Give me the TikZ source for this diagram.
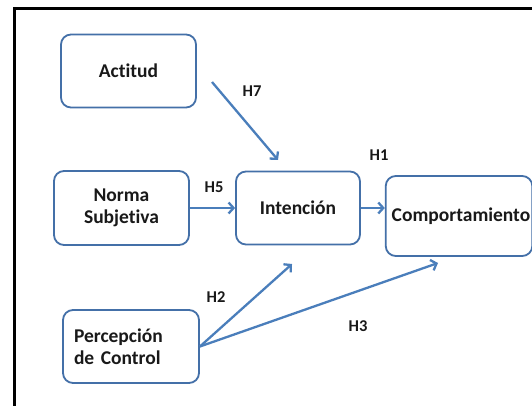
\documentclass[tikz,border=0pt]{standalone}
\usepackage{fontspec}
\setmainfont[Ligatures=NoCommon]{Carlito}
\usetikzlibrary{arrows.meta,calc}
\definecolor{boxblue}{RGB}{68,112,168}
\definecolor{arrblue}{RGB}{74,126,187}
\tikzset{
  cbox/.style={draw=boxblue, line width=1.8pt, rounded corners=10pt, fill=white,
    font=\fontsize{19.5}{22}\selectfont\bfseries, align=center, inner sep=2pt, text=black!90},
  conn/.style={draw=arrblue, line width=2.3pt, -{Straight Barb[length=5pt,width=11pt,line width=2.3pt]}},
  hlab/.style={font=\fontsize{16.5}{19}\selectfont\bfseries, inner sep=0pt, text=black!90}
}
\begin{document}
\begin{tikzpicture}[x=1pt,y=-1pt]
\useasboundingbox (0,0) rectangle (532,406);
\fill[white] (0,0) rectangle (532,406);
\draw[line width=3pt] (14,440) -- (14,9) -- (560,9);

\node[cbox, minimum width=135pt, minimum height=73pt] (act) at (128.5,71) {Actitud};
\node[cbox, minimum width=135pt, minimum height=74pt] (norm) at (121.5,208) {Norma\\Subjetiva};
\node[cbox, minimum width=124pt, minimum height=73pt] (int) at (298,208) {Intención};
\node[cbox, minimum width=144pt, minimum height=80pt] (comp) at (459,216) {\hspace*{4pt}Comportamiento};
\node[cbox, minimum width=136pt, minimum height=73pt, text width=114pt, align=left] (perc) at (131,346.5) {Percepción\\ de Control};

\coordinate (h7s) at (212,82);
\coordinate (h7e) at (278,160);
\coordinate (h2e) at (292,264);
\coordinate (h3e) at (438,263);

\draw[conn] (h7s) -- (h7e);
\draw[conn] (norm.east) -- (int.west);
\draw[conn] (int.east) -- (int.east -| comp.west);
\draw[conn] (perc.east) -- (h2e);
\draw[conn] (perc.east) -- (h3e);

\node[hlab] (l7) at (252,91) {H7};
\node[hlab] (l5) at (214,187) {H5};
\node[hlab] (l1) at (379,155) {H1};
\node[hlab] (l2) at (216,297) {H2};
\node[hlab] (l3) at (358,326) {H3};
\end{tikzpicture}
\end{document}
